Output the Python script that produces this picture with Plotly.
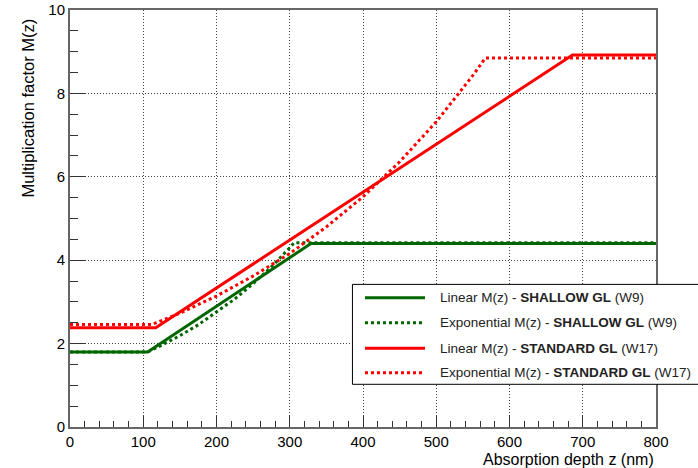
import plotly.graph_objects as go

# Linear M(z), SHALLOW GL (W9)
shallow_lin_z = [0, 106, 329, 800]
shallow_lin_m = [1.80, 1.80, 4.40, 4.40]

# Exponential M(z), SHALLOW GL (W9)
shallow_exp_z = [0, 106, 125, 150, 175, 200, 225, 250, 275, 300, 306, 800]
shallow_exp_m = [1.80, 1.80, 1.96, 2.19, 2.45, 2.75, 3.07, 3.44, 3.84, 4.30, 4.42, 4.42]

# Linear M(z), STANDARD GL (W17)
standard_lin_z = [0, 117, 686, 800]
standard_lin_m = [2.38, 2.38, 8.92, 8.92]

# Exponential M(z), STANDARD GL (W17)
standard_exp_z = [0, 112, 150, 200, 250, 300, 350, 400, 450, 500, 550, 567, 800]
standard_exp_m = [2.46, 2.46, 2.73, 3.14, 3.62, 4.16, 4.80, 5.52, 6.36, 7.32, 8.43, 8.85, 8.85]

names = [
    "Linear M(z) - <b>SHALLOW GL</b> (W9)",
    "Exponential M(z) - <b>SHALLOW GL</b> (W9)",
    "Linear M(z) - <b>STANDARD GL</b> (W17)",
    "Exponential M(z) - <b>STANDARD GL</b> (W17)",
]

GREEN = "#006600"
RED = "#ff0000"
DOT = "3px,3px"
FONT = "Liberation Sans, Arial, sans-serif"

fig = go.Figure()
series = [
    (shallow_lin_z, shallow_lin_m, GREEN, "solid"),
    (shallow_exp_z, shallow_exp_m, GREEN, DOT),
    (standard_lin_z, standard_lin_m, RED, "solid"),
    (standard_exp_z, standard_exp_m, RED, DOT),
]
for i, (z, m, c, d) in enumerate(series):
    fig.add_trace(go.Scatter(
        x=z, y=m, mode="lines", name=names[i], showlegend=False,
        line=dict(color=c, width=3, dash=d),
    ))

axis_common = dict(
    showline=True, linecolor="#666666", linewidth=2, mirror=True,
    ticks="inside", tickcolor="#333333", tickwidth=1,
    showgrid=True, gridcolor="#444444", griddash="1px,2px", gridwidth=1,
    zeroline=False, automargin=False,
    tickfont=dict(family=FONT, size=15, color="black"),
)

fig.update_xaxes(
    range=[0, 800], tickmode="linear", tick0=0, dtick=100, ticklen=11,
    minor=dict(ticks="inside", dtick=20, ticklen=6, tickcolor="#333333", showgrid=False),
    **axis_common,
)
fig.update_yaxes(
    range=[0, 10], tickmode="linear", tick0=0, dtick=2, ticklen=15,
    minor=dict(ticks="inside", dtick=0.5, ticklen=8, tickcolor="#333333", showgrid=False),
    **axis_common,
)

# Hand-built legend box (ROOT style, extends past the right frame)
shapes = [dict(type="rect", xref="paper", yref="paper", x0=0.482, x1=1.2, y0=0.1024, y1=0.342,
               line=dict(color="black", width=1), fillcolor="white", layer="above")]
annotations = []
row_y = [0.310, 0.250, 0.1887, 0.1302]
for i, (_, _, c, d) in enumerate(series):
    shapes.append(dict(type="line", xref="paper", yref="paper", x0=0.5034, x1=0.6058,
                       y0=row_y[i], y1=row_y[i], line=dict(color=c, width=3, dash=d),
                       layer="above"))
    annotations.append(dict(text=names[i], xref="paper", yref="paper", x=0.628, y=row_y[i],
                            xanchor="left", yanchor="middle", showarrow=False,
                            font=dict(family=FONT, size=13.5, color="#222222")))

annotations += [
    dict(text="Absorption depth z (nm)", xref="paper", yref="paper",
         x=1.0, y=-0.078, xanchor="right", yanchor="middle", showarrow=False,
         font=dict(family=FONT, size=16, color="black")),
    dict(text="Multiplication factor M(z)", xref="paper", yref="paper",
         x=-0.072, y=0.985, xanchor="center", yanchor="top", textangle=-90,
         showarrow=False, font=dict(family=FONT, size=16.5, color="black")),
]

fig.update_layout(
    width=698, height=468,
    margin=dict(l=70, r=42, t=10, b=41),
    paper_bgcolor="white", plot_bgcolor="white",
    font=dict(family=FONT, color="black"),
    showlegend=False,
    shapes=shapes,
    annotations=annotations,
)

fig.write_html("out.html")
